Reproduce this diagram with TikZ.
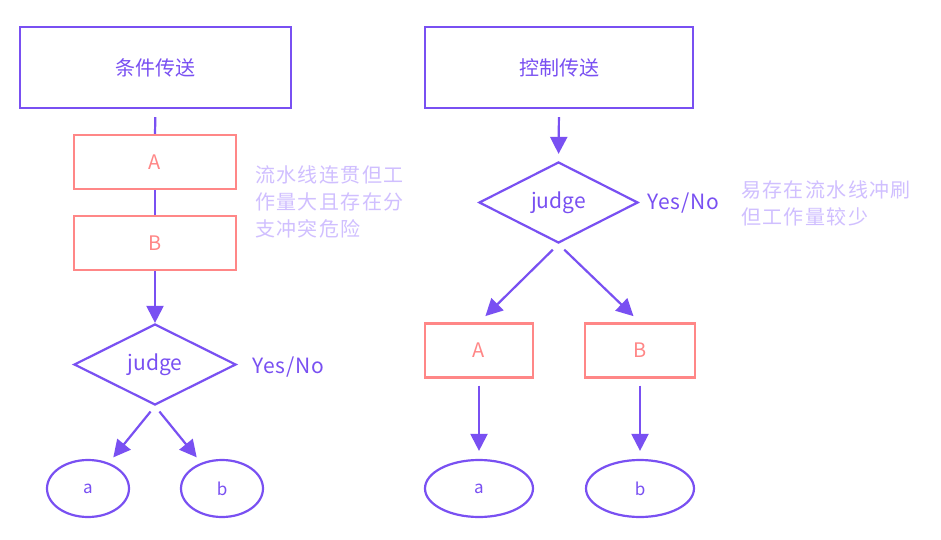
\documentclass[tikz,border=0pt]{standalone}
\usepackage{fontspec}
\setmainfont{Noto Sans CJK SC}
\usetikzlibrary{arrows.meta,shapes.geometric}
\definecolor{vio}{HTML}{7950F2}
\definecolor{redc}{HTML}{FF8787}
\definecolor{notec}{HTML}{D0BFFF}
\begin{document}
\begin{tikzpicture}[x=1pt,y=-1pt,
  bigbox/.style={draw=vio,line width=2.2pt,minimum width=271pt,minimum height=81pt,inner sep=0pt,text=vio,font=\fontsize{20}{24}\selectfont},
  redbox/.style={draw=redc,line width=2.2pt,minimum height=54pt,inner sep=0pt,text=redc,font=\fontsize{20}{24}\selectfont},
  dia/.style={diamond,draw=vio,line width=2.2pt,inner sep=0pt,minimum height=81pt,text=vio,font=\fontsize{21}{24}\selectfont},
  ell/.style={ellipse,draw=vio,line width=2.2pt,inner sep=0pt,minimum height=57pt,text=vio,font=\fontsize{17}{20}\selectfont},
  lbl/.style={text=vio,anchor=west,inner sep=0pt,font=\fontsize{21}{24}\selectfont\addfontfeature{LetterSpace=4}},
  notetxt/.style={text=notec,align=left,anchor=west,inner sep=0pt,font=\fontsize{20}{27}\selectfont\addfontfeature{LetterSpace=7}},
  ln/.style={draw=vio,line width=2.2pt},
  arr/.style={draw=vio,line width=2.2pt,-{Triangle[length=17pt,width=17pt]}}]
\fill[white] (0,0) rectangle (941,540);
\useasboundingbox (0,0) rectangle (941,540);

% left flow
\node[bigbox] (t1) at (155.5,67.5) {条件传送};
\node[redbox,minimum width=162pt] (a1) at (155,162) {A};
\node[redbox,minimum width=162pt] (b1) at (155,243) {B};
\node[dia,minimum width=162pt] (d1) at (155,364.5) {judge};
\node[lbl] (yn1) at (252,367) {Yes/No};
\node[ell,minimum width=82pt] (e1a) at (88,488.5) {a};
\node[ell,minimum width=82pt] (e1b) at (222,488.5) {b};
\node[notetxt] (n1) at (255,202) {流水线连贯但工\\作量大且存在分\\支冲突危险};

\draw[ln,shorten <=8pt] (t1.south) -- (a1.north);
\draw[ln] (a1.south) -- (b1.north);
\draw[arr] (b1.south) -- (d1.north);
\draw[arr,shorten <=7pt,shorten >=7pt] (d1.south) -- (e1a);
\draw[arr,shorten <=7pt,shorten >=7pt] (d1.south) -- (e1b);

% right flow
\node[bigbox,minimum width=268pt] (t2) at (559,67.5) {控制传送};
\node[dia,minimum width=159pt] (d2) at (558.5,202.5) {judge};
\node[lbl] (yn2) at (647,203) {Yes/No};
\node[notetxt] (n2) at (741,203) {易存在流水线冲刷\\但工作量较少};
\node[redbox,minimum width=108pt] (a2) at (479,350.5) {A};
\node[redbox,minimum width=110pt] (b2) at (640,350.5) {B};
\node[ell,minimum width=108pt] (e2a) at (479,488.5) {a};
\node[ell,minimum width=108pt] (e2b) at (640,488.5) {b};

\draw[arr,shorten <=8pt,shorten >=7pt] (t2.south) -- (d2.north);
\draw[arr,shorten <=8pt,shorten >=9pt] (d2.south) -- (a2.north);
\draw[arr,shorten <=8pt,shorten >=9pt] (d2.south) -- (b2.north);
\draw[arr,shorten <=7pt,shorten >=8pt] (a2.south) -- (e2a.north);
\draw[arr,shorten <=7pt,shorten >=8pt] (b2.south) -- (e2b.north);
\end{tikzpicture}
\end{document}
